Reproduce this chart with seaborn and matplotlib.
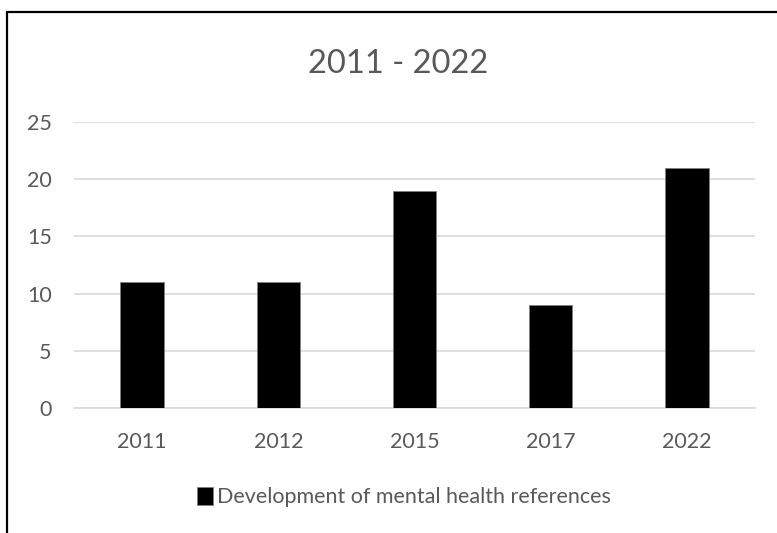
import matplotlib
matplotlib.use("Agg")
import matplotlib.pyplot as plt
import pandas as pd
import seaborn as sns
from matplotlib.lines import Line2D

years = ["2011", "2012", "2015", "2017", "2022"]
references = [11, 11, 19, 9, 21]
series_name = "Development of mental health references"
title = "2011 - 2022"

TEXT = "#595959"
GRID = "#D9D9D9"

sns.set_theme(style="white")
plt.rcParams["font.family"] = ["Lato", "DejaVu Sans"]

df = pd.DataFrame({"year": years, "count": references})

fig = plt.figure(figsize=(7.77, 5.33), dpi=100)
ax = fig.add_axes([74 / 777, 1 - 408 / 533, (755 - 74) / 777, (408 - 122) / 533])

sns.barplot(data=df, x="year", y="count", color="black", width=0.32,
            edgecolor="#7f7f7f", linewidth=0.6, saturation=1, ax=ax, zorder=3)

ax.set_ylim(0, 25)
ax.set_yticks(range(0, 26, 5))
ax.set_xlim(-0.5, len(years) - 0.5)
ax.yaxis.grid(True, color=GRID, linewidth=1.2, zorder=0)
ax.set_axisbelow(True)
for side in ["top", "right", "left"]:
    ax.spines[side].set_visible(False)
ax.spines["bottom"].set_color(GRID)
ax.spines["bottom"].set_linewidth(1.2)
ax.set_xlabel("")
ax.set_ylabel("")
ax.tick_params(axis="both", length=0, labelsize=15.5, labelcolor=TEXT)
ax.tick_params(axis="x", pad=17)
ax.tick_params(axis="y", pad=16)

fig.text(398 / 777, 1 - 64 / 533, title, ha="center", va="center",
         fontsize=23.5, color=TEXT)

handles = [plt.Rectangle((0, 0), 1, 1, facecolor="black", edgecolor="#7f7f7f", linewidth=0.6)]
fig.legend(handles, [series_name], loc="center", bbox_to_anchor=(404 / 777, 1 - 497 / 533),
           frameon=False, fontsize=15.5, labelcolor=TEXT, handlelength=0.75,
           handleheight=0.9, handletextpad=0.2)

# chart border (cropped on the right and bottom)
fig.add_artist(Line2D([7 / 777, 7 / 777], [0, 1 - 12 / 533], transform=fig.transFigure,
                      color="black", linewidth=1.6))
fig.add_artist(Line2D([7 / 777, 1], [1 - 12 / 533, 1 - 12 / 533], transform=fig.transFigure,
                      color="black", linewidth=1.6))

fig.savefig("out.png", dpi=100)
